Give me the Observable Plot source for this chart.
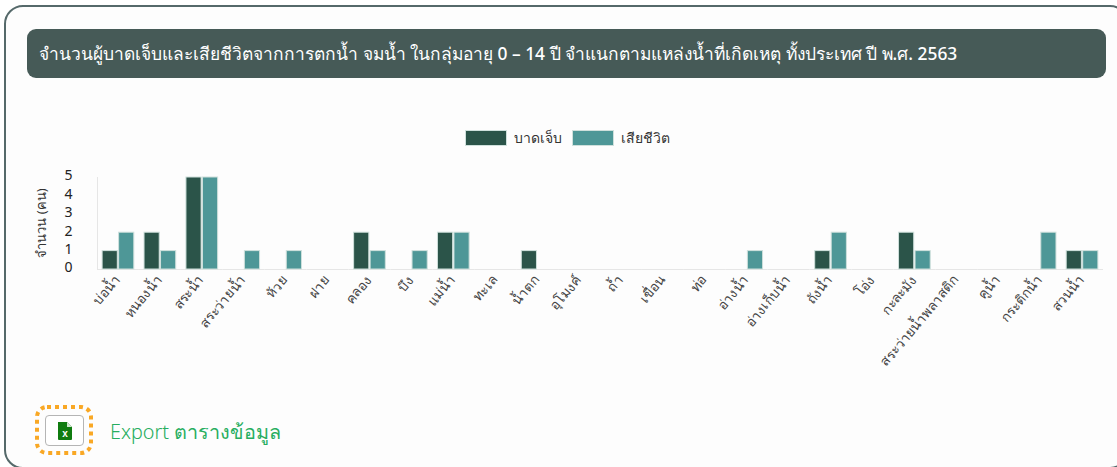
<!DOCTYPE html>
<html lang="th">
<head>
<meta charset="utf-8">
<script src="https://cdn.jsdelivr.net/npm/d3@7"></script>
<script src="https://cdn.jsdelivr.net/npm/@observablehq/plot@0.6"></script>
<style>
html,body{margin:0;padding:0;background:#fff;}
body{width:1117px;height:467px;overflow:hidden;position:relative;font-family:"Noto Sans","Open Sans",sans-serif;}
#card{position:absolute;left:4px;top:5px;width:1125px;height:464px;border:2px solid #55696a;border-radius:19px;background:#fdfdfd;box-sizing:border-box;}
#title{position:absolute;left:27px;top:29px;width:1079px;height:49px;background:#465a57;border-radius:9px;color:#fff;font-size:17.37px;font-weight:500;line-height:49px;padding-left:12px;box-sizing:border-box;white-space:nowrap;}
#legend{position:absolute;top:130px;left:465px;height:17px;font-size:14px;color:#333;}
#legend span{position:absolute;top:-1px;line-height:17px;white-space:nowrap;}
#legend i{position:absolute;top:0;width:42px;height:16px;box-sizing:border-box;border:1px solid #cfe0dc;}
#chart{position:absolute;left:0;top:160px;}
#dots{position:absolute;left:33px;top:403px;}
#btn{position:absolute;left:45px;top:415px;width:39px;height:31px;box-sizing:border-box;border:1px solid #b5b5b5;border-radius:4px;background:#fff;}
#btn svg{position:absolute;left:12px;top:5px;}
#export{position:absolute;left:110px;top:418px;font-size:19.8px;font-weight:300;line-height:28px;color:#27ae60;white-space:nowrap;}
</style>
</head>
<body>
<div id="card"></div>
<div id="title">จำนวนผู้บาดเจ็บและเสียชีวิตจากการตกน้ำ จมน้ำ ในกลุ่มอายุ 0 – 14 ปี จำแนกตามแหล่งน้ำที่เกิดเหตุ ทั้งประเทศ ปี พ.ศ. 2563</div>
<div id="legend"></div>
<div id="chart"></div>
<svg id="dots" width="62" height="54"><rect x="4" y="4" width="54" height="46" rx="10" fill="none" stroke="#f9a825" stroke-width="4" stroke-dasharray="4 4"/></svg>
<div id="btn"><svg width="14" height="19" viewBox="0 0 14 19"><path d="M0 1h9l5 5v12a1 1 0 0 1-1 1H1a1 1 0 0 1-1-1z" fill="#107c10"/><path d="M9 1l5 5H9z" fill="#cfe8cf"/><text x="7" y="16" font-size="10" font-weight="700" fill="#fff" text-anchor="middle" font-family="Liberation Sans">x</text></svg></div>
<div id="export">Export ตารางข้อมูล</div>
<script>
const categories = ["บ่อน้ำ","หนองน้ำ","สระน้ำ","สระว่ายน้ำ","ห้วย","ฝาย","คลอง","บึง","แม่น้ำ","ทะเล","น้ำตก","อุโมงค์","ถ้ำ","เขื่อน","ท่อ","อ่างน้ำ","อ่างเก็บน้ำ","ถังน้ำ","โอ่ง","กะละมัง","สระว่ายน้ำพลาสติก","คูน้ำ","กระติกน้ำ","สวนน้ำ"];
const injured = [1,2,5,0,0,0,2,0,2,0,1,0,0,0,0,0,0,1,0,2,0,0,0,1];
const deaths  = [2,1,5,1,1,0,1,1,2,0,0,0,0,0,0,1,0,2,0,1,0,0,2,1];
const seriesNames = ["บาดเจ็บ","เสียชีวิต"];
const seriesColors = ["#2b5449","#4e9797"];
const yTicks = [0,1,2,3,4,5];

const rows = categories.flatMap((c,i)=>[
  {category:c, series:seriesNames[0], value:injured[i]},
  {category:c, series:seriesNames[1], value:deaths[i]}
]);

const legend = document.getElementById("legend");
legend.innerHTML =
  `<i style="left:0;background:${seriesColors[0]}"></i><span style="left:49px">${seriesNames[0]}</span>`+
  `<i style="left:107px;background:${seriesColors[1]}"></i><span style="left:156px">${seriesNames[1]}</span>`;

const fontStack = '"Noto Sans","Open Sans",sans-serif';
const chart = Plot.plot({
  width:1117, height:240,
  marginLeft:97, marginRight:14, marginTop:17, marginBottom:131,
  style:{fontFamily:fontStack, fontSize:"14px", color:"#444", background:"transparent", overflow:"visible"},
  fx:{domain:categories, padding:0, round:false, label:null},
  x:{domain:seriesNames, paddingInner:0.08, paddingOuter:0.31, round:false, axis:null},
  y:{domain:[0,5], ticks:yTicks, label:null},
  color:{domain:seriesNames, range:seriesColors},
  marks:[
    Plot.ruleY([0],{stroke:"#e6e6e6"}),
    Plot.axisY({anchor:"left", ticks:yTicks, tickFormat:"d", tickSize:0, tickPadding:25, dy:-1.5, label:null, fontSize:14, fill:"#222"}),
    Plot.axisFx({anchor:"bottom", domain:categories, tickSize:0, tickPadding:8, dx:-1, tickRotate:-50, label:null, fontSize:13.5, fill:"#444"}),
    Plot.barY(rows,{fx:"category", x:"series", y:"value", fill:"series", stroke:"#cfe0dc", strokeWidth:1, filter:d=>d.value>0}),
  ]
});
document.getElementById("chart").append(chart);

const svg = d3.select(chart);
const yS = chart.scale("y");
svg.append("line").attr("x1",97.5).attr("x2",97.5).attr("y1",yS.apply(5)).attr("y2",yS.apply(0)).attr("stroke","#e6e6e6");
svg.append("text").attr("transform",`translate(46,${(yS.apply(5)+yS.apply(0))/2}) rotate(-90)`)
  .attr("text-anchor","middle").attr("font-size",13).attr("fill","#333").text("จำนวน (คน)");
</script>
</body>
</html>
